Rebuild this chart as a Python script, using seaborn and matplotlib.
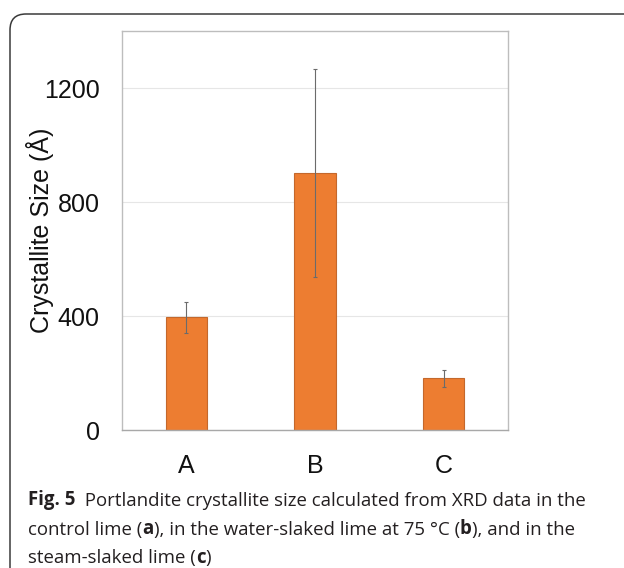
import matplotlib
matplotlib.use("Agg")
import matplotlib.pyplot as plt
import seaborn as sns
import pandas as pd
from matplotlib.patches import FancyBboxPatch

# data
samples = ["A", "B", "C"]
size_mean = [395, 903, 181]
size_err = [54, 365, 29]
y_ticks = [0, 400, 800, 1200]

sns.set_theme(style="white")
plt.rcParams['font.family'] = ['Liberation Sans', 'DejaVu Sans']

df = pd.DataFrame({"Sample": samples, "Size": size_mean})

W, H = 624, 568
fig = plt.figure(figsize=(W / 100, H / 100), dpi=100)
fig.patch.set_facecolor("white")

# rounded frame around figure + caption
frame = FancyBboxPatch((10, -60), 700, H - 14 + 60,
                       boxstyle="round,pad=0,rounding_size=16",
                       transform=None, facecolor="none",
                       edgecolor="#3a3a3a", linewidth=1.1)
fig.patches.append(frame)

ax = fig.add_axes([122 / W, 1 - 430 / H, 386 / W, 399 / H])
sns.barplot(data=df, x="Sample", y="Size", color="#ED7D31", saturation=1,
            width=0.32, edgecolor="#C4682C", linewidth=0.8,
            errorbar=None, ax=ax)
ax.errorbar(range(len(samples)), size_mean, yerr=size_err, fmt="none",
            ecolor="#6b6b6b", elinewidth=0.8, capsize=1.5, capthick=0.8)

ax.set_ylim(0, 1400)
ax.set_yticks(y_ticks)
ax.set_xlim(-0.5, 2.5)
ax.yaxis.grid(True, color="#e6e6e6", linewidth=0.8)
ax.set_axisbelow(True)
for sp in ax.spines.values():
    sp.set_color("#bdbdbd")
    sp.set_linewidth(1.0)
ax.spines['bottom'].set_color("#a8a8a8")

ax.tick_params(axis='y', direction='in', length=5, width=0.8, color="#bdbdbd",
               pad=16, labelsize=18, labelcolor="#111111")
ax.tick_params(axis='x', length=0, pad=17, labelsize=18, labelcolor="#111111")
ax.set_xlabel("")
ax.set_ylabel("Crystallite Size (Å)", fontsize=18, color="#111111")
ax.yaxis.set_label_coords((54 - 122) / 386, 0.5)

# caption with bold pieces
fig.canvas.draw()
renderer = fig.canvas.get_renderer()


def caption_line(x, y, parts):
    for s, w in parts:
        t = fig.text(x, y, s, fontsize=13.4, fontweight=w, va="baseline",
                     family=["Open Sans", "DejaVu Sans"], color="#231f20")
        x += t.get_window_extent(renderer).width / W


caption_line(28 / W, 1 - 505.5 / H,
             [("Fig. 5", "bold"),
              ("  Portlandite crystallite size calculated from XRD data in the", "normal")])
caption_line(28 / W, 1 - 534.5 / H,
             [("control lime (", "normal"), ("a", "bold"),
              ("), in the water-slaked lime at 75 °C (", "normal"), ("b", "bold"),
              ("), and in the", "normal")])
caption_line(28 / W, 1 - 563 / H,
             [("steam-slaked lime (", "normal"), ("c", "bold"), (")", "normal")])

fig.savefig("out.png", dpi=100)
